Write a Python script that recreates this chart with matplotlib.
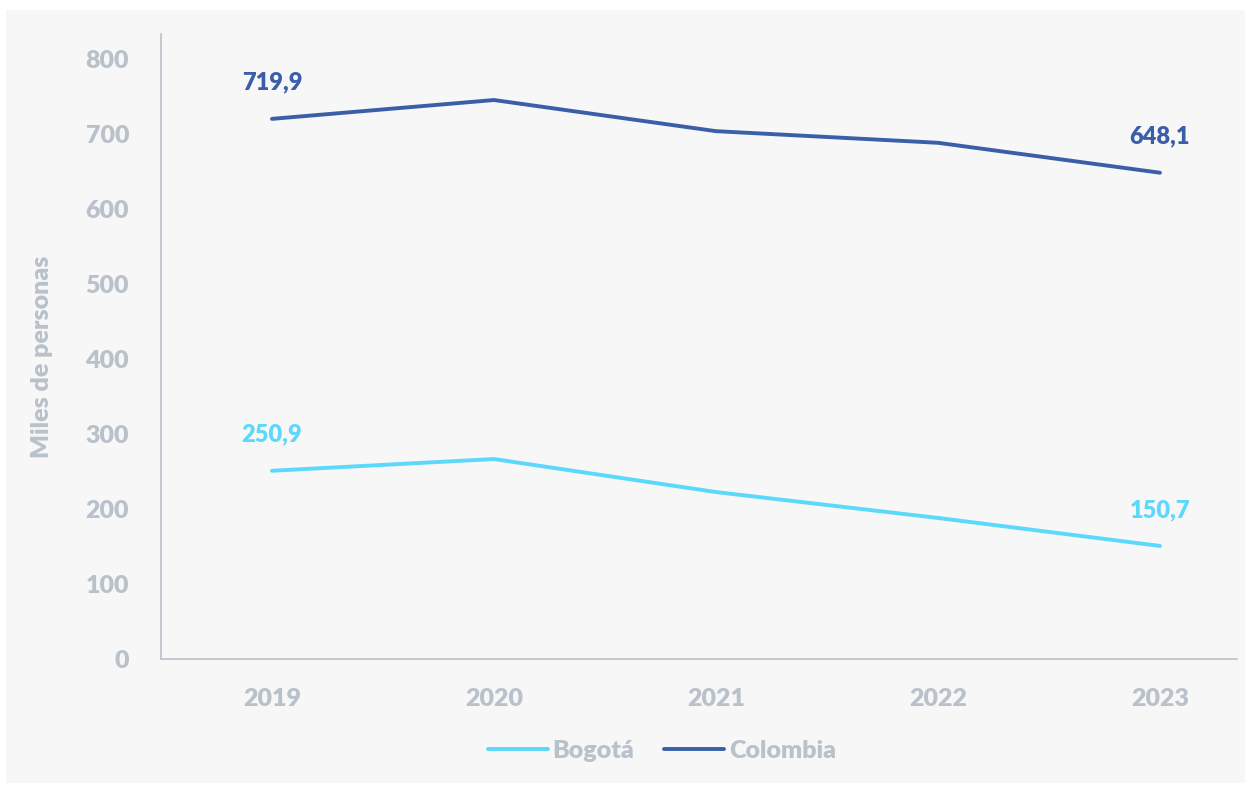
import matplotlib
matplotlib.use("Agg")
import matplotlib.pyplot as plt
from matplotlib.patches import Rectangle

years = [2019, 2020, 2021, 2022, 2023]
bogota = [250.9, 266.5, 222.5, 188.0, 150.7]
colombia = [719.9, 745.0, 703.5, 688.0, 648.1]
yticks = [0, 100, 200, 300, 400, 500, 600, 700, 800]

c_bog = "#5bd8fb"
c_col = "#3a5fa8"
c_grey = "#b9c1cb"
bg = "#f7f7f7"
W = "heavy"

plt.rcParams['font.family'] = ['Lato', 'DejaVu Sans']

fig = plt.figure(figsize=(12.49, 7.87), dpi=100)
fig.patch.set_facecolor("white")
fig.patches.append(Rectangle((6/1249, 1-783/787), (1245-6)/1249, (783-10)/787,
                             transform=fig.transFigure, facecolor=bg, edgecolor="none", zorder=-10))

ax = fig.add_axes([161/1249, 1-659/787, (1237-161)/1249, (659-34)/787])
ax.set_facecolor("none")
ax.plot(years, bogota, color=c_bog, lw=2.8, solid_capstyle="round", label="Bogotá")
ax.plot(years, colombia, color=c_col, lw=2.8, solid_capstyle="round", label="Colombia")

ax.set_xlim(2018.5, 2023.347)
ax.set_ylim(0, 833)
ax.set_xticks(years)
ax.set_xticklabels([str(y) for y in years])
ax.set_yticks(yticks)
for s in ["top", "right"]:
    ax.spines[s].set_visible(False)
for s in ["left", "bottom"]:
    ax.spines[s].set_color("#b9c1cb")
    ax.spines[s].set_linewidth(1.2)
ax.tick_params(length=0, labelsize=18, labelcolor=c_grey)
ax.tick_params(axis="x", pad=21)
ax.tick_params(axis="y", pad=23)
for lab in ax.get_xticklabels() + ax.get_yticklabels():
    lab.set_fontweight(W)
ax.set_ylabel("Miles de personas", fontsize=18, color=c_grey, fontweight=W)
ax.yaxis.set_label_coords(-0.100, 0.484)

def fmt(v):
    return f"{v:.1f}".replace(".", ",")

for i in (0, 4):
    ax.annotate(fmt(colombia[i]), (years[i], colombia[i]), xytext=(0, 26), textcoords="offset points",
                ha="center", va="center", fontsize=17, fontweight=W, color=c_col)
    ax.annotate(fmt(bogota[i]), (years[i], bogota[i]), xytext=(0, 26), textcoords="offset points",
                ha="center", va="center", fontsize=17, fontweight=W, color=c_bog)

leg = fig.legend(loc="center", bbox_to_anchor=(662/1249, 1-751/787), ncol=2, frameon=False,
                 fontsize=18, handlelength=2.4, handletextpad=0.2, columnspacing=1.2)
for t in leg.get_texts():
    t.set_color(c_grey)
    t.set_fontweight(W)

fig.savefig("out.png", dpi=100, facecolor="white")
